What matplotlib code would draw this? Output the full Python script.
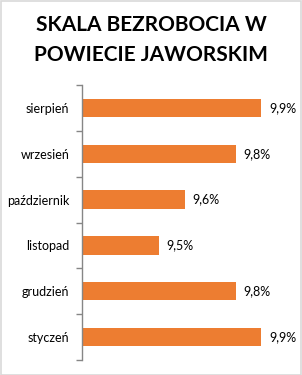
import matplotlib
matplotlib.use("Agg")
import matplotlib.pyplot as plt
from matplotlib.patches import Rectangle

categories = ["sierpień", "wrzesień", "październik", "listopad", "grudzień", "styczeń"]
values = [9.9, 9.8, 9.6, 9.5, 9.8, 9.9]
value_labels = ["9,9%", "9,8%", "9,6%", "9,5%", "9,8%", "9,9%"]
title_lines = ["SKALA BEZROBOCIA W", "POWIECIE JAWORSKIM"]

plt.rcParams['font.family'] = ['Lato', 'DejaVu Sans']

W, H = 302, 375
fig = plt.figure(figsize=(W / 100, H / 100), dpi=100)
fig.patch.set_facecolor("white")
fig.patches.append(Rectangle((0.5 / W, 0.5 / H), 1 - 1.5 / W, 1 - 1.5 / H,
                             transform=fig.transFigure, fill=False,
                             edgecolor="#D9D9D9", linewidth=1.2))

left, right, top, bottom = 82, 287, 85, 360
ax = fig.add_axes([left / W, 1 - bottom / H, (right - left) / W, (bottom - top) / H])

xmin, xmax = 9.2, 10.0
y = list(range(len(categories)))
ax.barh(y, [v - xmin for v in values], left=xmin, height=0.4, color="#ED7D31")
ax.set_xlim(xmin, xmax)
ax.set_ylim(len(categories) - 0.5, -0.5)

for yi, v, lab in zip(y, values, value_labels):
    ax.text(v + 0.03, yi, lab, va="center", ha="left", fontsize=9, color="#000000")

ax.set_yticks([i - 0.5 for i in range(len(categories) + 1)], minor=False)
ax.set_yticklabels([])
ax.set_yticks(y, minor=True)
ax.set_yticklabels(categories, minor=True, fontsize=9, color="#000000")
ax.tick_params(axis="y", which="major", length=4, color="#868686", width=1)
ax.tick_params(axis="y", which="minor", length=0, pad=9)
ax.set_xticks([])
for s in ["top", "right", "bottom"]:
    ax.spines[s].set_visible(False)
ax.spines["left"].set_color("#868686")
ax.spines["left"].set_linewidth(1)

for yy, line in zip([25, 55], title_lines):
    fig.text(0.5, 1 - yy / H, line, ha="center", va="center", fontsize=15,
             fontweight="bold", color="#000000")

fig.savefig("out.png", dpi=100)
